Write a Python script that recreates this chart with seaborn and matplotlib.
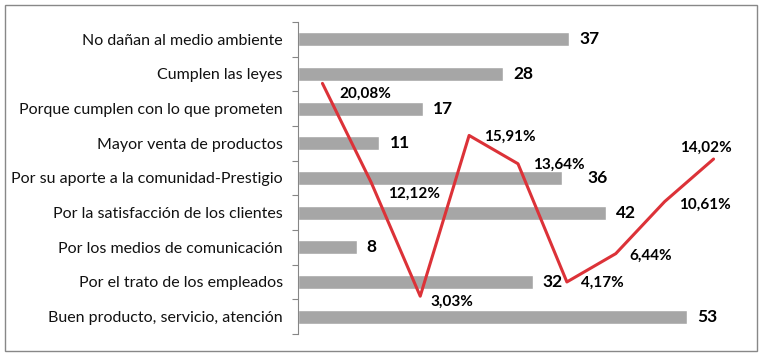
import numpy as np
import matplotlib
matplotlib.use("Agg")
import matplotlib.pyplot as plt
import seaborn as sns
from matplotlib.patches import Rectangle

# categories (top to bottom) and counts
categories = [
    "No dañan al medio ambiente",
    "Cumplen las leyes",
    "Porque cumplen con lo que prometen",
    "Mayor venta de productos",
    "Por su aporte a la comunidad-Prestigio",
    "Por la satisfacción de los clientes",
    "Por los medios de comunicación",
    "Por el trato de los empleados",
    "Buen producto, servicio, atención",
]
counts = [37, 28, 17, 11, 36, 42, 8, 32, 53]

# percentages drawn as the red line (left to right)
percents = [20.08, 12.12, 3.03, 15.91, 13.64, 4.17, 6.44, 10.61, 14.02]

# label placement (pixels)
count_gap = [10, 10, 10, 11, 25, 10, 10, 10, 11]
pct_offsets = [(17, -10), (17, -11), (10, -6), (15, -1), (15, -1),
               (14, -1), (14, -2), (14, -3), (-8, 11)]

sns.set_theme(style="white")
plt.rcParams["font.family"] = ["Lato", "DejaVu Sans"]

W, H = 763, 356
fig = plt.figure(figsize=(W / 100, H / 100), dpi=100)
fig.patch.set_facecolor("white")

left, right, top, bottom = 298, 738, 22, 334
rect = [left / W, 1 - bottom / H, (right - left) / W, (bottom - top) / H]

# bars
ax = fig.add_axes(rect)
sns.barplot(x=counts, y=categories, orient="h", color="#A6A6A6",
            saturation=1, width=0.4, ax=ax)
ax.set_xlim(0, 60)
ax.set_ylim(len(categories) - 0.5, -0.5)
ax.set_xticks([])
ax.set_xlabel("")
ax.set_ylabel("")
for s in ["top", "right", "bottom"]:
    ax.spines[s].set_visible(False)
ax.spines["left"].set_color("#868686")
ax.spines["left"].set_linewidth(0.8)
ax.set_yticks(np.arange(len(categories)))
ax.set_yticklabels(categories, fontsize=11.5, color="#111111")
ax.set_yticks(np.arange(len(categories) + 1) - 0.5, minor=True)
ax.tick_params(axis="y", which="major", length=0, pad=11)
ax.tick_params(axis="y", which="minor", length=4.5, width=0.8,
               color="#868686", direction="out", left=True)

for i, v in enumerate(counts):
    ax.annotate(str(v), (v, i), xytext=(count_gap[i], 0),
                textcoords="offset pixels", ha="left", va="center",
                fontsize=12.5, fontweight="bold", color="black")

# red line on an overlaid axes
ax2 = fig.add_axes(rect, frameon=False)
xs = np.arange(len(percents))
sns.lineplot(x=xs, y=percents, ax=ax2, color="#DC3238", linewidth=2.2)
ax2.set_xlim(-0.5, len(percents) - 0.5)
ax2.set_ylim(0, 25)
ax2.set_xticks([])
ax2.set_yticks([])

for i, v in enumerate(percents):
    dx, dy = pct_offsets[i]
    ha = "center" if i == len(percents) - 1 else "left"
    ax2.annotate(f"{v:.2f}%".replace(".", ","), (i, v), xytext=(dx, dy),
                 textcoords="offset pixels", ha=ha, va="center",
                 fontsize=11, fontweight="bold", color="black")

# chart border
fig.patches.append(Rectangle((5 / W, 1 - 351 / H), 752 / W, 346 / H,
                             transform=fig.transFigure, fill=False,
                             edgecolor="#888888", linewidth=1))

fig.savefig("out.png", dpi=100)
